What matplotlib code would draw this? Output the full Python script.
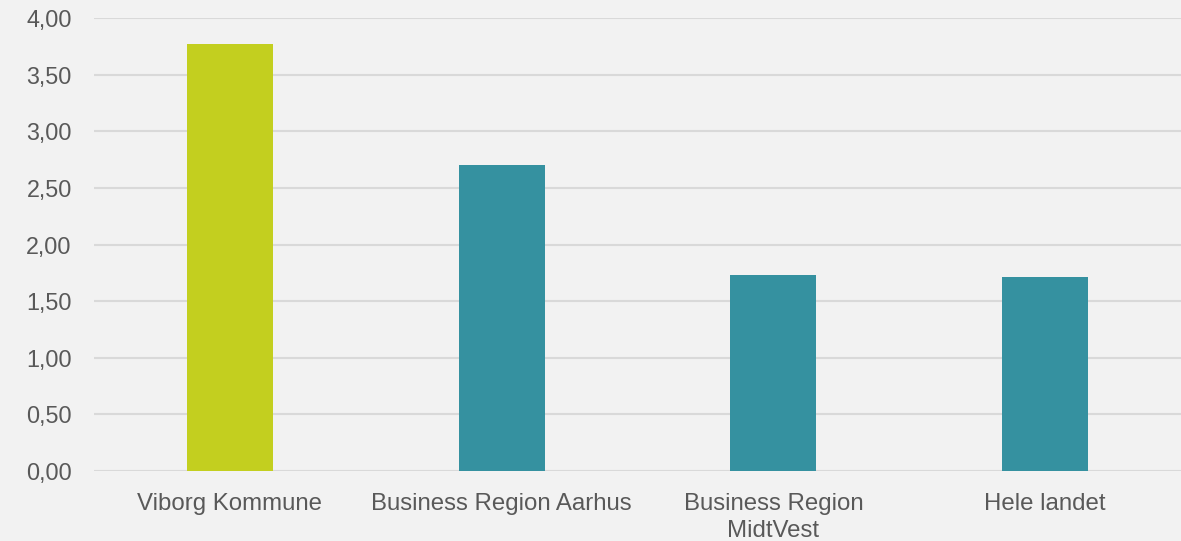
import matplotlib.pyplot as plt
from matplotlib.ticker import FuncFormatter, MultipleLocator

categories = ["Viborg Kommune", "Business Region Aarhus", "Business Region\nMidtVest", "Hele landet"]
values = [3.77, 2.70, 1.73, 1.71]
colors = ["#C3CF1F", "#3591A0", "#3591A0", "#3591A0"]

plt.rcParams['font.family'] = ['Liberation Sans', 'DejaVu Sans']

fig = plt.figure(figsize=(11.81, 5.41), dpi=100, facecolor="#F2F2F2")
ax = fig.add_axes([0.0796, 0.1294, 0.9204, 0.8373])
ax.set_facecolor("#F2F2F2")

x = range(len(categories))
ax.bar(x, values, width=0.316, color=colors, zorder=3)

ax.set_ylim(0, 4)
ax.set_xlim(-0.5, len(categories) - 0.5)
ax.yaxis.set_major_locator(MultipleLocator(0.5))
ax.yaxis.set_major_formatter(FuncFormatter(lambda v, p: "{:.2f}".format(v).replace(".", ",")))
ax.grid(axis="y", color="#D9D9D9", linewidth=1.5, zorder=0)
ax.set_xticks(list(x))
ax.set_xticklabels(categories, linespacing=1.29)

for s in ax.spines.values():
    s.set_visible(False)
ax.tick_params(axis="y", length=0, pad=16, labelsize=16.8, labelcolor="#595959")
ax.tick_params(axis="x", length=0, pad=16, labelsize=17.3, labelcolor="#595959")

fig.savefig("out.png", dpi=100, facecolor=fig.get_facecolor())
